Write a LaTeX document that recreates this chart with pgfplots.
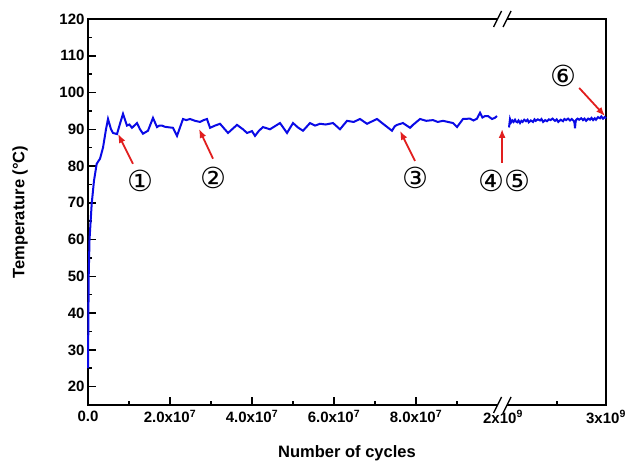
\documentclass[border=0pt]{standalone}
\usepackage{pgfplots}
\pgfplotsset{compat=1.18}
\usepackage{fontspec}
\setmainfont{Liberation Sans}
\newfontfamily\symfont{DejaVu Sans}
\usetikzlibrary{arrows.meta}
\definecolor{arrred}{RGB}{225,30,30}
\definecolor{lineblue}{RGB}{10,10,230}
\begin{document}
\begin{tikzpicture}
\useasboundingbox (-88pt,-59pt) rectangle (538pt,405pt);
\begin{axis}[
  at={(0,0)}, anchor=south west,
  scale only axis, width=518pt, height=386pt,
  xmin=0, xmax=12.634, ymin=15, ymax=120,
  axis line style={line width=1.5pt},
  xtick={0,2,4,6,8},
  xticklabels={0.0,2.0x10\textsuperscript{7},4.0x10\textsuperscript{7},6.0x10\textsuperscript{7},8.0x10\textsuperscript{7}},
  extra x ticks={10.122,12.634},
  extra x tick labels={2x10\textsuperscript{9},3x10\textsuperscript{9}},
  extra x tick style={major tick length=0pt},
  minor xtick={1,3,5,7,9,11.44},
  ytick={20,30,...,120}, minor ytick={25,35,...,115},
  tick align=inside, xtick pos=bottom, ytick pos=left,
  major tick length=8pt, minor tick length=4pt,
  tick style={line width=1.5pt, black},
  ticklabel style={font=\fontsize{15}{15}\selectfont\bfseries},
  /pgf/number format/assume math mode=true,
  xticklabel style={yshift=-2pt},
  xlabel={Number of cycles},
  ylabel={Temperature (°C)},
  every axis x label/.style={at={(axis description cs:0.5,0)}, yshift=-48pt, anchor=center, font=\fontsize{16.5}{16.5}\selectfont\bfseries},
  every axis y label/.style={at={(axis description cs:0,0.5)}, xshift=-68pt, rotate=90, anchor=center, font=\fontsize{16.5}{16.5}\selectfont\bfseries},
  clip=false,
]
\addplot[lineblue, line width=2pt] coordinates {
(0,25) (0.017,50) (0.037,60) (0.090,69.7) (0.146,76) (0.212,80.6) (0.293,82) (0.366,85) (0.439,90) (0.488,92.8)
(0.561,90) (0.610,89) (0.707,88.7) (0.780,91.5) (0.854,94.2) (0.951,91) (1.01,91.3) (1.073,90.4) (1.195,91.7) (1.268,90)
(1.341,88.8) (1.463,89.6) (1.585,93.1) (1.683,90.6) (1.74,91.0) (1.805,91) (1.87,90.7) (1.927,90.6) (2.073,90.4) (2.171,88.2) (2.317,92.8)
(2.40,92.5) (2.488,92.8) (2.610,92.3) (2.732,92) (2.82,92.5) (2.902,92.8) (2.976,90.4) (3.098,91) (3.220,91.5) (3.415,89) (3.634,91.2)
(3.780,90) (3.878,89) (4.000,89.5) (4.073,88.2) (4.17,89.6) (4.268,90.6) (4.439,90) (4.683,91.7) (4.854,89) (5.000,91.7)
(5.12,90.5) (5.244,89.6) (5.415,91.7) (5.537,91) (5.659,91.5) (5.80,91.3) (5.976,91.7) (6.146,90) (6.317,92.3) (6.48,92.0) (6.634,92.8) (6.805,91.5)
(7.049,92.8) (7.195,91.5) (7.415,89.6) (7.48,90.8) (7.537,91.2) (7.683,91.7) (7.854,90.4) (7.927,91.2) (8.098,92.8) (8.25,92.3) (8.415,92.5)
(8.53,92.0) (8.659,92.3) (8.902,91.7) (9.000,90.6) (9.146,92.8) (9.317,92.9) (9.40,92.4) (9.488,92.9) (9.561,94.5) (9.62,93.2) (9.683,93.6) (9.756,93.6)
(9.854,92.8) (9.92,93.1) (9.976,93.6)
};
\addplot[lineblue, line width=2pt] coordinates {
(10.268,90.5) (10.293,92.8) (10.32,91.9) (10.35,92.4) (10.38,92.0) (10.415,92.6) (10.44,92.1) (10.47,91.9) (10.50,92.4) (10.537,91.7)
(10.57,92.3) (10.60,92.0) (10.64,92.6) (10.683,92.2) (10.72,92.6) (10.75,91.9) (10.80,92.4) (10.854,92.0) (10.89,92.7) (10.92,92.3)
(10.97,92.7) (11.024,92.4) (11.06,92.8) (11.10,92.0) (11.15,92.5) (11.195,92.2) (11.24,92.7) (11.28,92.5) (11.33,92.9) (11.390,92.3)
(11.43,92.7) (11.47,92.0) (11.53,92.6) (11.585,92.2) (11.62,92.8) (11.66,92.5) (11.71,92.9) (11.756,92.4) (11.80,92.8) (11.854,92.2)
(11.866,91.6) (11.878,90.3) (11.890,91.8) (11.902,92.5) (11.94,92.9) (11.98,92.6) (12.03,93.0) (12.073,92.5) (12.11,92.9) (12.15,92.3)
(12.20,92.9) (12.244,92.6) (12.28,93.1) (12.32,92.5) (12.36,93.0) (12.390,92.6) (12.44,93.3) (12.488,93.0) (12.52,93.5) (12.561,92.9)
(12.60,93.3) (12.634,93)
};
% axis breaks
\draw[white, line width=4pt] (axis cs:9.99,15) -- (axis cs:10.22,15);
\draw[white, line width=4pt] (axis cs:9.99,120) -- (axis cs:10.22,120);
\draw[line width=1.3pt] (axis cs:9.99,15) ++(-4pt,-8pt) -- ++(8pt,16pt);
\draw[line width=1.3pt] (axis cs:10.22,15) ++(-4pt,-8pt) -- ++(8pt,16pt);
\draw[line width=1.3pt] (axis cs:9.99,120) ++(-4pt,-8pt) -- ++(8pt,16pt);
\draw[line width=1.3pt] (axis cs:10.22,120) ++(-4pt,-8pt) -- ++(8pt,16pt);
% annotations
\tikzset{myarr/.style={arrred, line width=1.8pt, -{Latex[length=9pt,width=7pt]}}}
\draw[myarr] (axis cs:1.098,80.6) -- (axis cs:0.732,88.75);
\draw[myarr] (axis cs:3.049,82.0) -- (axis cs:2.707,90.1);
\draw[myarr] (axis cs:7.976,81.4) -- (axis cs:7.61,89.6);
\draw[myarr] (axis cs:10.10,80.9) -- (axis cs:10.10,90.1);
\draw[myarr] (axis cs:11.98,101.25) -- (axis cs:12.61,93.6);
\tikzset{circ/.style={font=\symfont\fontsize{29}{29}\selectfont, inner sep=0pt}}
\node[circ] at (axis cs:1.27,76) {①};
\node[circ] at (axis cs:3.05,76.8) {②};
\node[circ] at (axis cs:7.98,76.8) {③};
\node[circ] at (axis cs:10.15,76) {④⑤};
\node[circ] at (axis cs:11.59,104.5) {⑥};
\end{axis}
\end{tikzpicture}
\end{document}
